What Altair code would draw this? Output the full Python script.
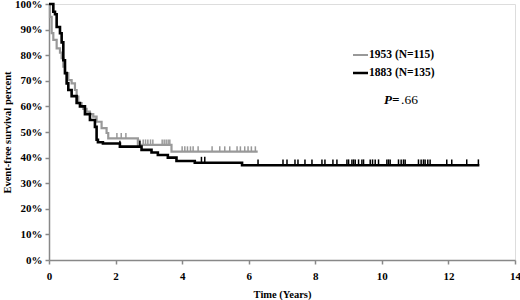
import altair as alt
import pandas as pd
import numpy as np

# Kaplan-Meier step data (time in years, survival percent)
black_t = [0, 0.13, 0.18, 0.23, 0.33, 0.38, 0.43, 0.48, 0.53, 0.58, 0.68, 0.83, 0.93,
           1.08, 1.23, 1.38, 1.43, 1.47, 1.62, 2.13, 2.78, 3.08, 3.27, 3.57, 3.83,
           4.38, 5.8, 12.93]
black_s = [100, 97, 96, 91, 88.6, 85, 78, 73, 69, 66.4, 64, 61.3, 60,
           57, 54.7, 52, 47, 46, 45.5, 44.3, 43, 42, 41, 40, 38.7,
           38, 37, 37]
gray_t = [0, 0.03, 0.08, 0.13, 0.23, 0.33, 0.38, 0.43, 0.48, 0.58, 0.68, 0.78, 0.83,
          0.88, 0.98, 1.03, 1.13, 1.23, 1.33, 1.43, 1.58, 1.73, 1.78, 2.67, 3.68, 6.27]
gray_s = [100, 95, 88.6, 86, 82.7, 81, 78.8, 75.5, 73, 70.3, 69, 66.4, 63.8,
          61.3, 60, 59, 58, 57, 56, 54, 51.5, 49.6, 47.5, 45, 42.3, 42.3]

gray_cens = [2.04, 2.17, 2.31, 2.73, 2.83, 2.9, 2.97, 3.05, 3.12, 3.4, 3.46, 3.52,
             3.58, 3.63, 4.0, 4.08, 4.16, 4.25, 4.33, 4.48, 4.9, 5.13, 5.28, 5.43,
             5.65, 5.75, 5.88, 5.98, 6.08, 6.2]
black_cens = [2.13, 2.73, 4.58, 4.68, 6.28, 7.03, 7.15, 7.39, 7.48, 7.69, 7.9, 8.2,
              8.29, 8.53, 8.65, 8.95, 9.0, 9.1, 9.15, 9.2, 9.3, 9.4, 9.45, 9.65,
              9.72, 9.8, 9.9, 10.15, 10.2, 10.25, 10.5, 10.58, 10.65, 10.7, 11.1,
              11.18, 11.25, 11.3, 11.38, 11.45, 11.95, 12.1, 12.55, 12.9]

x_ticks = list(range(0, 15, 2))
y_ticks = list(range(0, 101, 10))
series_names = ["1953 (N=115)", "1883 (N=135)"]
series_colors = ["#999999", "black"]
p_label = ["P=", ".66"]

FONT = "Liberation Serif"


def level_at(ts, ss, t):
    idx = np.searchsorted(np.array(ts), t, side="right") - 1
    return ss[max(idx, 0)]


gray_df = pd.DataFrame({"t": gray_t, "s": gray_s})
black_df = pd.DataFrame({"t": black_t, "s": black_s})
gray_c = pd.DataFrame({"t": gray_cens,
                       "s": [level_at(gray_t, gray_s, t) for t in gray_cens]})
gray_c["s2"] = gray_c["s"] + 2.1
black_c = pd.DataFrame({"t": black_cens,
                        "s": [level_at(black_t, black_s, t) for t in black_cens]})
black_c["s2"] = black_c["s"] + 2.3

xs = alt.Scale(domain=[0, 14], nice=False)
ys = alt.Scale(domain=[0, 100], nice=False)

x_axis = alt.Axis(values=x_ticks, title="Time (Years)", grid=False,
                  labelFont=FONT, labelFontSize=11, labelFontWeight="bold",
                  labelColor="black", titleFont=FONT, titleFontSize=10.5,
                  titleFontWeight="bold", titleColor="black", domainColor="#888888",
                  tickColor="#888888", tickSize=4, labelPadding=6, titlePadding=8,
                  domainWidth=1.5, tickWidth=1.5, labelFlush=False,
                  labelOverlap=False)
y_axis = alt.Axis(values=y_ticks, title="Event-free survival percent",
                  grid=False, labelExpr="datum.value + '%'", labelFont=FONT,
                  labelFontSize=11, labelFontWeight="bold", labelColor="black",
                  titleFont=FONT, titleFontSize=10.5, titleFontWeight="bold",
                  titleColor="black", domainColor="#888888", tickColor="#888888",
                  tickSize=4, labelPadding=3, titlePadding=2, domainWidth=1.5,
                  tickWidth=1.5, labelFlush=False, labelOverlap=False)

X = alt.X("t:Q", scale=xs, axis=x_axis)
Y = alt.Y("s:Q", scale=ys, axis=y_axis)

gray_line = alt.Chart(gray_df).mark_line(interpolate="step-after", color="#999999",
                                         strokeWidth=2.2).encode(x=X, y=Y)
black_line = alt.Chart(black_df).mark_line(interpolate="step-after", color="black",
                                           strokeWidth=2.6).encode(x=X, y=Y)
gray_ticks = alt.Chart(gray_c).mark_rule(color="#999999", strokeWidth=1.5).encode(
    x=X, y=Y, y2="s2:Q")
black_ticks = alt.Chart(black_c).mark_rule(color="black", strokeWidth=1.5).encode(
    x=X, y=Y, y2="s2:Q")

# legend (drawn manually)
legend_layers = []
for i, (name, col) in enumerate(zip(series_names, series_colors)):
    ypix = 51 + 18 * i
    d = pd.DataFrame({"name": [name]})
    legend_layers.append(alt.Chart(d).mark_rule(strokeWidth=2.5 if i else 2,
                                                color=col).encode(
        x=alt.value(304), x2=alt.value(319), y=alt.value(ypix)))
    legend_layers.append(alt.Chart(d).mark_text(
        align="left", baseline="middle", font=FONT, fontSize=11.5,
        fontWeight="bold", color="black").encode(
        x=alt.value(320), y=alt.value(ypix), text="name:N"))

p1 = alt.Chart(pd.DataFrame({"txt": [p_label[0]]})).mark_text(
    align="left", baseline="middle", font=FONT, fontSize=13, fontWeight="bold",
    fontStyle="italic", color="black").encode(
    x=alt.value(335), y=alt.value(96), text="txt:N")
p2 = alt.Chart(pd.DataFrame({"txt": [p_label[1]]})).mark_text(
    align="left", baseline="middle", font=FONT, fontSize=13.5, color="black").encode(
    x=alt.value(352), y=alt.value(96), text="txt:N")

chart = alt.layer(gray_line, gray_ticks, black_line, black_ticks, *legend_layers,
                  p1, p2).properties(
    width=466, height=256,
    autosize=alt.AutoSizeParams(type="none"),
    padding={"left": 49, "top": 4, "right": 5, "bottom": 40},
).configure_view(stroke=None).configure(background="white")

chart.save("out.html", embed_options={"renderer": "svg", "actions": False})
